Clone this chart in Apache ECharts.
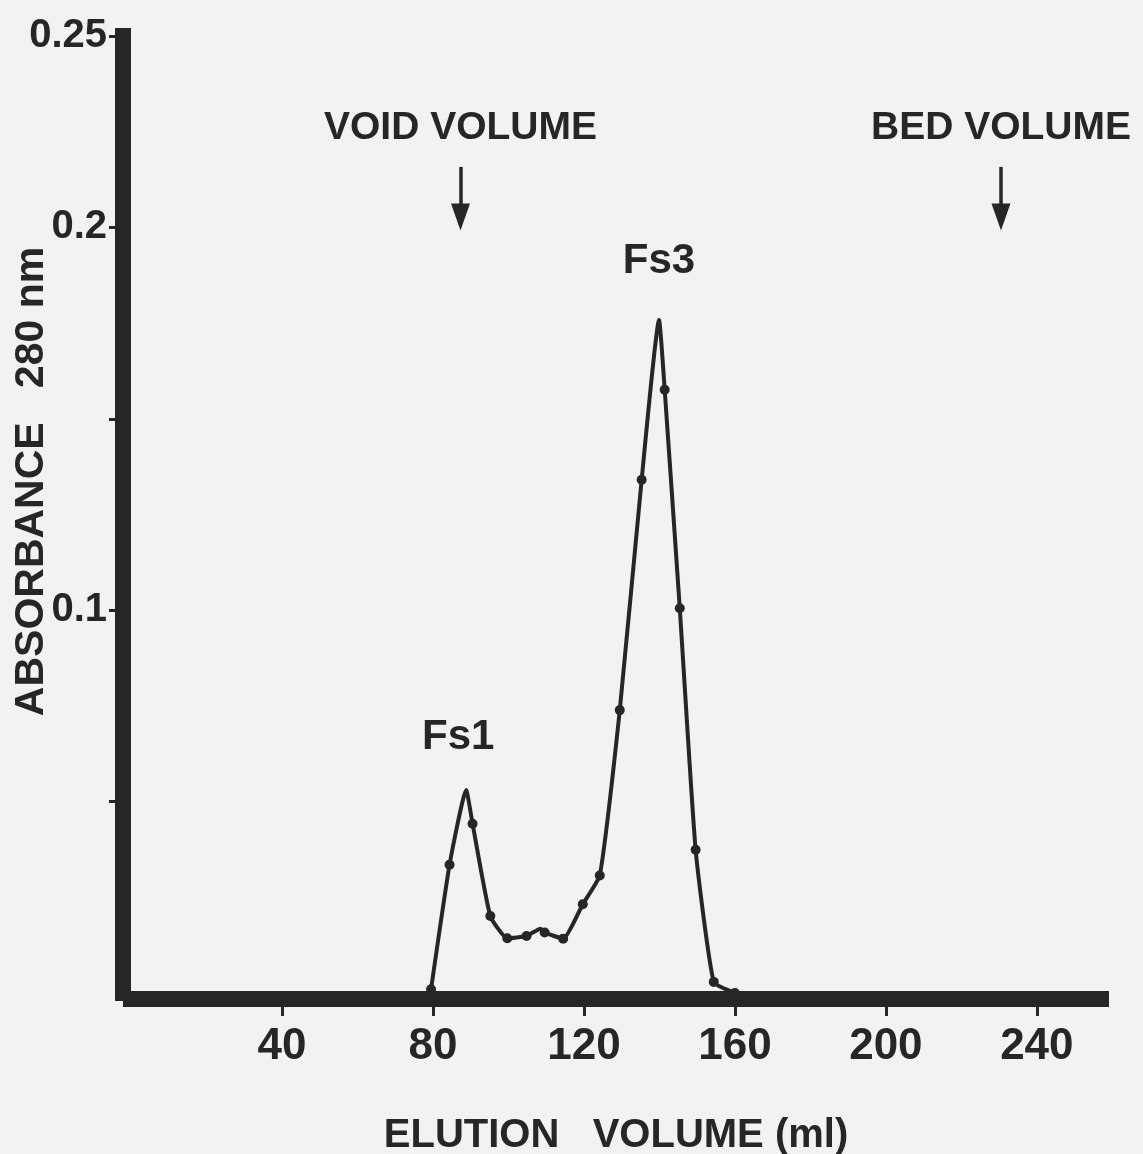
<!DOCTYPE html>
<html>
<head>
<meta charset="utf-8">
<script src="https://cdn.jsdelivr.net/npm/echarts@6/dist/echarts.min.js"></script>
<style>
html,body{margin:0;padding:0;background:#f2f2f0;}
#c{width:1143px;height:1154px;}
</style>
</head>
<body>
<div id="c"></div>
<script>
// ---- data ----
const elution = [79.5, 84.4, 88.8, 90.5, 95.2, 99.7, 104.8, 108.5, 109.6, 114.5, 119.7, 124.2, 129.5, 135.3, 139.9, 141.4, 145.4, 149.6, 154.4, 160.0];
const absorbance = [0.001, 0.0335, 0.0530, 0.0442, 0.0201, 0.0143, 0.0149, 0.0168, 0.0158, 0.0142, 0.0232, 0.0307, 0.0739, 0.1341, 0.1758, 0.1576, 0.1005, 0.0374, 0.0029, 0.0];
const undottedIdx = [2, 7, 14];            // curve vertices drawn without a measured dot
const peakIdx = [2, 14];
const peakNames = ['Fs1', 'Fs3'];
const xTicks = [40, 80, 120, 160, 200, 240];
const yTicks = [0.05, 0.1, 0.15, 0.2, 0.25];
const yTickLabels = [0.1, 0.2, 0.25];
const voidVolume = 87.3;
const bedVolume = 230.5;
const arrowTop = 0.2158;
const arrowBottom = 0.2027;

const ink = '#262626';
const font = "'Liberation Sans', Arial, sans-serif";
const peakLabelStyle = [
  { offset: [-8, 0], distance: 32 },
  { offset: [0, 0], distance: 38 }
];

const seriesData = elution.map((x, i) => {
  const item = { value: [x, absorbance[i]] };
  if (undottedIdx.includes(i)) item.symbolSize = 0;
  const p = peakIdx.indexOf(i);
  if (p >= 0) {
    item.label = Object.assign({ show: true, formatter: peakNames[p] }, peakLabelStyle[p]);
  }
  return item;
});

const arrowHead = 'path://M5,0 L10,16 L0,16 Z';
const headEnd = v => ({ coord: [v, arrowBottom], symbol: arrowHead, symbolSize: [19, 27] });

const chart = echarts.init(document.getElementById('c'), null, { renderer: 'canvas' });
chart.setOption({
  backgroundColor: '#f2f2f0',
  animation: false,
  grid: { left: 131, right: 42, top: 36, bottom: 161, containLabel: false, outerBoundsMode: 'none' },
  xAxis: {
    type: 'value', min: 0, max: 257, interval: 40,
    offset: 6,
    name: 'ELUTION   VOLUME (ml)',
    nameLocation: 'middle', nameGap: 117,
    nameTextStyle: { color: ink, fontFamily: font, fontWeight: 'bold', fontSize: 40 },
    axisLine: { onZero: false, lineStyle: { color: ink, width: 16, cap: 'square' } },
    axisTick: { customValues: xTicks, length: 17, lineStyle: { color: ink, width: 3 } },
    axisLabel: { customValues: xTicks, margin: 26, color: ink, fontFamily: font, fontWeight: 'bold', fontSize: 44 },
    splitLine: { show: false }
  },
  yAxis: {
    type: 'value', min: 0, max: 0.25, interval: 0.05,
    offset: 8,
    name: 'ABSORBANCE   280 nm',
    nameLocation: 'middle', nameGap: 71,
    nameMoveOverlap: false,
    nameTextStyle: { color: ink, fontFamily: font, fontWeight: 'bold', fontSize: 41, padding: [0, 0, 0, 66] },
    axisLine: { onZero: false, lineStyle: { color: ink, width: 16, cap: 'square' } },
    axisTick: { customValues: yTicks, length: 14, lineStyle: { color: ink, width: 3 } },
    axisLabel: { customValues: yTickLabels, margin: 16, color: ink, fontFamily: font, fontWeight: 'bold', fontSize: 40,
      formatter: v => String(+v.toFixed(2)) },
    splitLine: { show: false }
  },
  series: [{
    type: 'line',
    data: seriesData,
    smooth: 0.15,
    symbol: 'circle',
    symbolSize: 10,
    showAllSymbol: true,
    itemStyle: { color: ink },
    lineStyle: { color: ink, width: 4, join: 'round', cap: 'round' },
    label: { show: false, position: 'top', distance: 30, color: ink, fontFamily: font, fontWeight: 'bold', fontSize: 42 },
    markLine: {
      silent: true,
      symbol: ['none', arrowHead],
      symbolSize: 20,
      lineStyle: { color: ink, width: 3.5, type: 'solid' },
      label: { show: true, position: 'start', formatter: '{b}', distance: 19, color: ink, fontFamily: font, fontWeight: 'bold', fontSize: 39 },
      data: [
        [{ name: 'VOID VOLUME', coord: [voidVolume, arrowTop] }, headEnd(voidVolume)],
        [{ name: 'BED VOLUME', coord: [bedVolume, arrowTop] }, headEnd(bedVolume)]
      ]
    }
  }]
});
</script>
</body>
</html>
